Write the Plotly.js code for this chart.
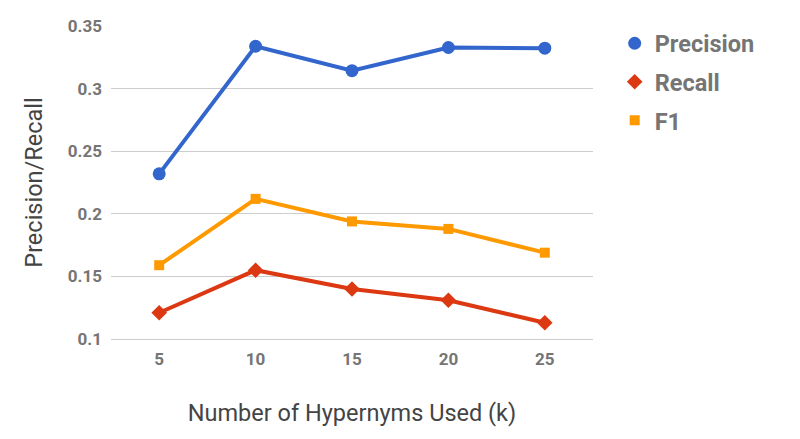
<!DOCTYPE html>
<html>
<head>
<meta charset="utf-8">
<script src="https://cdn.plot.ly/plotly-3.0.1.min.js"></script>
<style>
  html, body { margin: 0; padding: 0; background: #fff; }
  #chart { width: 800px; height: 439px; }
</style>
</head>
<body>
<div id="chart"></div>
<script>
// Hypernym count (k) on the x axis
const kValues = ['5', '10', '15', '20', '25'];

// Scores per k
const precision = [0.232, 0.334, 0.3145, 0.333, 0.3325];
const recall    = [0.121, 0.155, 0.140, 0.131, 0.113];
const f1        = [0.159, 0.212, 0.194, 0.188, 0.169];

const seriesNames = ['Precision', 'Recall', 'F1'];
const seriesColors = ['#3366cc', '#dc3912', '#ff9900'];
const seriesSymbols = ['circle', 'diamond', 'square'];
const seriesSizes = [13, 12, 10];
const seriesValues = [precision, recall, f1];

const traces = [];
seriesValues.forEach((vals, i) => {
  // connecting line
  traces.push({
    x: kValues, y: vals, type: 'scatter', mode: 'lines',
    line: { color: seriesColors[i], width: 4 },
    showlegend: false, hoverinfo: 'skip'
  });
  // point markers (also used for the legend entry)
  traces.push({
    x: kValues, y: vals, type: 'scatter', mode: 'markers',
    name: seriesNames[i], legendgroup: seriesNames[i],
    marker: { color: seriesColors[i], symbol: seriesSymbols[i], size: seriesSizes[i] }
  });
});

const layout = {
  width: 800, height: 439,
  margin: { l: 111, r: 207, t: 26, b: 100 },
  paper_bgcolor: '#ffffff', plot_bgcolor: '#ffffff',
  font: { family: 'Roboto, sans-serif', color: '#757575' },
  xaxis: {
    type: 'category', range: [-0.5, 4.5],
    showgrid: false, zeroline: false,
    // baseline drawn in the grid colour so it reads as the 0.1 gridline
    showline: true, linecolor: '#cccccc', linewidth: 1,
    ticks: '', ticklen: 0, ticklabelstandoff: 5,
    tickfont: { family: 'Roboto', size: 17, color: '#757575', weight: 'bold' },
    title: { text: 'Number of Hypernyms Used (k)', standoff: 36,
             font: { family: 'Roboto', size: 23.5, color: '#444444' } }
  },
  yaxis: {
    range: [0.1, 0.3502], dtick: 0.05, tick0: 0.1,
    showgrid: true, gridcolor: '#cccccc', gridwidth: 1,
    zeroline: false, showline: false, ticks: '',
    tickfont: { family: 'Roboto', size: 17, color: '#757575', weight: 'bold' },
    ticklabelstandoff: 8,
    title: { text: 'Precision/Recall', standoff: 18,
             font: { family: 'Roboto', size: 23.5, color: '#444444' } }
  },
  legend: {
    x: 1.045, xanchor: 'left', y: 1.0144, yanchor: 'top',
    font: { family: 'Roboto', size: 23.5, color: '#757575', weight: 'bold' },
    tracegroupgap: 5,
    bgcolor: 'rgba(0,0,0,0)'
  },
  showlegend: true
};

Plotly.newPlot('chart', traces, layout, { displayModeBar: false, staticPlot: true });
</script>
</body>
</html>
